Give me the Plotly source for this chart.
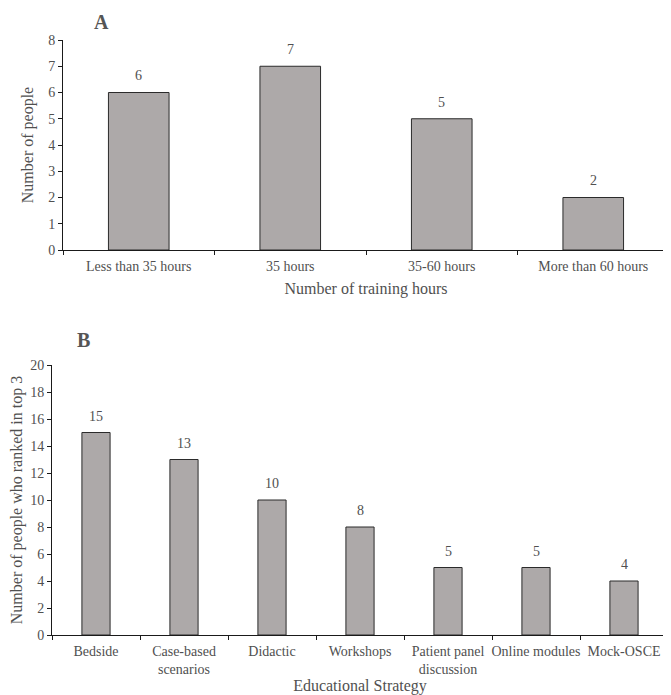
import plotly.graph_objects as go

# panel A: training hours
hours_cats = ["Less than 35 hours", "35 hours", "35-60 hours", "More than 60 hours"]
hours_counts = [6, 7, 5, 2]

# panel B: educational strategies ranked in top 3
strategy_cats = ["Bedside", "Case-based<br>scenarios", "Didactic", "Workshops",
                 "Patient panel<br>discussion", "Online modules", "Mock-OSCE"]
strategy_counts = [15, 13, 10, 8, 5, 5, 4]

# page body has an 8px margin, so the figure is shrunk by that much
OFF = 8
W, H = 671 - OFF, 695 - OFF
FONT = "Liberation Serif, Times New Roman, serif"
TXT = "#505050"
BAR = "#ADA9A9"


def px_x(p):
    return (p - OFF) / W


def px_y(p):
    return 1 - (p - OFF) / H


fig = go.Figure()

fig.add_trace(go.Bar(
    x=hours_cats, y=hours_counts, xaxis="x", yaxis="y",
    marker=dict(color=BAR, line=dict(color="#2b2b2b", width=1)),
    width=0.4, showlegend=False,
))

fig.add_trace(go.Bar(
    x=strategy_cats, y=strategy_counts, xaxis="x2", yaxis="y2",
    marker=dict(color=BAR, line=dict(color="#2b2b2b", width=1)),
    width=0.32, showlegend=False,
))

# value labels above the bars
labels = []
for cats, vals, xr, yr in [(hours_cats, hours_counts, "x", "y"),
                           (strategy_cats, strategy_counts, "x2", "y2")]:
    for c, v in zip(cats, vals):
        labels.append(dict(x=c, y=v, xref=xr, yref=yr, text=str(v), showarrow=False,
                           yanchor="bottom", yshift=7,
                           font=dict(family=FONT, size=14, color=TXT)))

axis_common = dict(
    showgrid=False, zeroline=False, showline=True, linecolor="#1a1a1a", linewidth=1,
    ticks="outside", ticklen=4, tickcolor="#1a1a1a", automargin=False,
    tickfont=dict(family=FONT, size=14, color=TXT),
)

fig.update_layout(
    width=W, height=H,
    margin=dict(l=0, r=0, t=0, b=0),
    paper_bgcolor="white", plot_bgcolor="white",
    font=dict(family=FONT, color=TXT),
    xaxis=dict(axis_common, domain=[px_x(63), px_x(669)], anchor="y",
               tickson="boundaries", tickangle=0, ticklabelstandoff=3,
               title=dict(text="Number of training hours", font=dict(size=16, color=TXT), standoff=10)),
    yaxis=dict(axis_common, domain=[px_y(250), px_y(40)], anchor="x",
               range=[0, 8], dtick=1,
               title=dict(text="Number of people", font=dict(size=16, color=TXT), standoff=10)),
    xaxis2=dict(axis_common, domain=[px_x(52), px_x(668)], anchor="y2",
                tickson="boundaries", tickangle=0, ticklabelstandoff=3,
                title=dict(text="Educational Strategy", font=dict(size=16, color=TXT), standoff=6)),
    yaxis2=dict(axis_common, domain=[px_y(635), px_y(365)], anchor="x2",
                range=[0, 20], dtick=2,
                title=dict(text="Number of people who ranked in top 3", font=dict(size=16, color=TXT), standoff=10)),
    annotations=labels + [
        dict(text="<b>A</b>", x=px_x(92), y=px_y(9), xref="paper", yref="paper",
             showarrow=False, font=dict(family=FONT, size=20, color="#555555")),
        dict(text="<b>B</b>", x=px_x(75), y=px_y(340), xref="paper", yref="paper",
             showarrow=False, font=dict(family=FONT, size=20, color="#555555")),
    ],
)

fig.write_html("out.html")
